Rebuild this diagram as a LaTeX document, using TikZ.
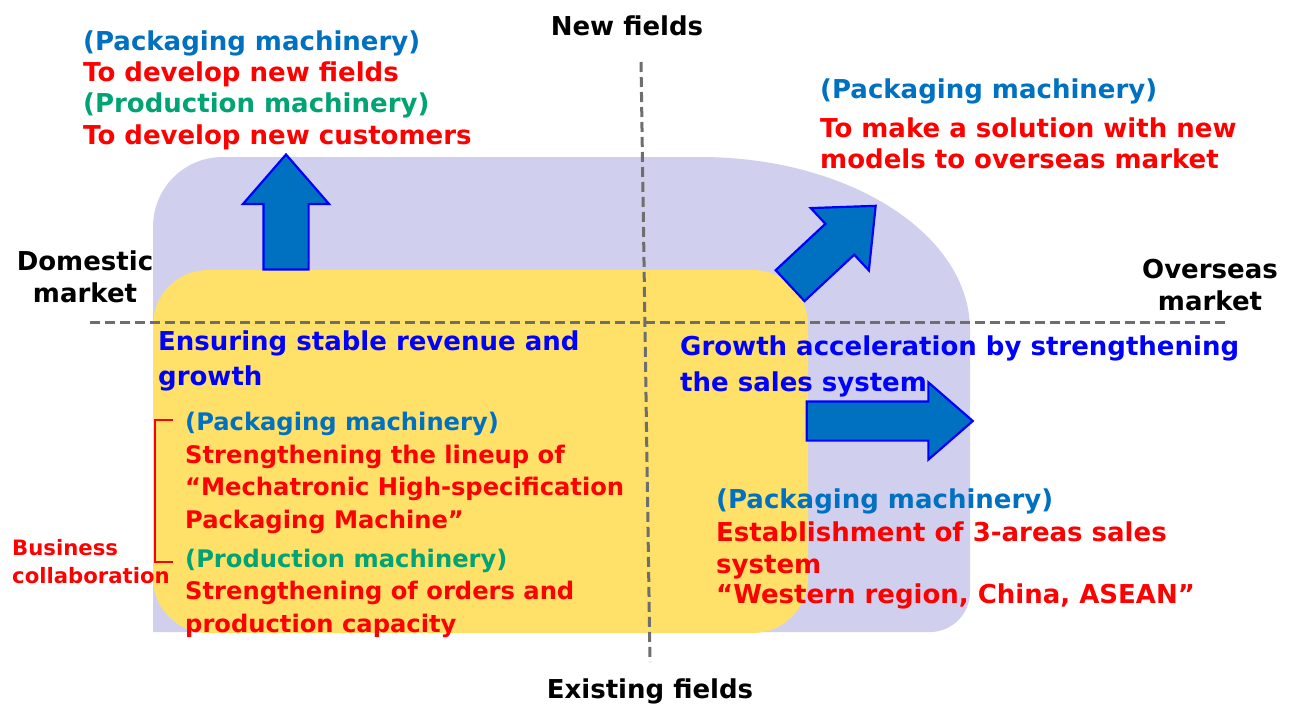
\documentclass[tikz,border=0pt]{standalone}
\usepackage{fontspec}
\setmainfont{DejaVu Sans}
\usetikzlibrary{shapes.arrows}

\definecolor{pkgblue}{RGB}{0,112,192}
\definecolor{prodgreen}{RGB}{0,163,115}
\definecolor{lavender}{RGB}{208,208,238}
\definecolor{sunny}{RGB}{255,224,104}
\definecolor{axisgray}{RGB}{110,110,110}

\begin{document}
\begin{tikzpicture}[x=1pt,
                    y=-1pt,
                    line join=miter,
                    ]
    % multi-line nodes sit on the baseline of their last line
    \tikzstyle{txt}=[inner sep=0pt, align=left, anchor=base west, font=\bfseries\fontsize{26}{32}\selectfont]
    \tikzstyle{txtsmall}=[txt, font=\bfseries\fontsize{24.2}{32.5}\selectfont]
    \tikzstyle{axislabel}=[txt, anchor=base, align=center, text=black]
    \tikzstyle{note}=[txt, text=red, font=\bfseries\fontsize{21.2}{28}\selectfont]
    \tikzstyle{bigarrow}=[single arrow, draw=blue, fill=pkgblue, line width=2.2pt,
                          inner xsep=0pt, single arrow tip angle=82]
    \tikzstyle{axis}=[axisgray, line width=3pt, dash pattern=on 10pt off 5pt]

    \useasboundingbox (0,0) rectangle (1293,707);

    % market areas
    \fill[lavender] (153,632) -- (153,227) .. controls (153,188) and (184,157) .. (223,157)
        -- (700,157) .. controls (849,157) and (970,234) .. (970,330)
        -- (970,592) .. controls (970,614) and (952,632) .. (930,632) -- cycle;
    \fill[sunny, rounded corners=55pt] (153,270) rectangle (808,633);

    % quadrant axes
    \coordinate (west) at (90,322);
    \coordinate (east) at (1228,322);
    \coordinate (north) at (641,62);
    \coordinate (south) at (650,662);
    \draw[axis] (west) -- (east);
    \draw[axis] (north) -- (south);

    \node[axislabel] (newfields) at (627,35) {New fields};
    \node[axislabel] (existing) at (650,698) {Existing fields};
    \node[axislabel] (domestic) at (85,302) {Domestic\\market};
    \node[axislabel] (overseas) at (1210,310) {Overseas\\market};

    % growth directions
    \node[bigarrow, minimum height=115pt, minimum width=84pt, inner ysep=21.5pt,
          single arrow head extend=20.5pt, rotate=90] (uparrow) at (286,225) {};
    \node[bigarrow, minimum height=117pt, minimum width=83pt, inner ysep=20pt,
          single arrow head extend=21.5pt, rotate=43] (diagarrow) at (824,254) {};
    \node[bigarrow, minimum height=166pt, minimum width=76pt, inner ysep=18.5pt,
          single arrow head extend=19pt] (rightarrow) at (878.5,421) {};

    % new fields
    \node[txt, font=\bfseries\fontsize{26}{31.3}\selectfont] (newdev) at (83,144)
        {\color{pkgblue}(Packaging machinery)\\
         \color{red}To develop new fields\\
         \color{prodgreen}(Production machinery)\\
         \color{red}To develop new customers};
    \node[txt] (newmodels) at (820,168)
        {\color{pkgblue}(Packaging machinery)\\[7pt]
         \color{red}To make a solution with new\\[-1pt]
         \color{red}models to overseas market};

    % existing fields
    \node[txt, text=blue] (stable) at (158,385) {Ensuring stable revenue and\\[3pt]growth};
    \node[txtsmall] (lineup) at (185,528)
        {\color{pkgblue}(Packaging machinery)\\
         \color{red}Strengthening the lineup of\\
         \color{red}“Mechatronic High-specification\\
         \color{red}Packaging Machine”};
    \node[txtsmall] (orders) at (185,632)
        {\color{prodgreen}(Production machinery)\\[-0.5pt]
         \color{red}Strengthening of orders and\\
         \color{red}production capacity};
    \node[note] (collab) at (12,583) {Business\\collaboration};
    \draw[red, line width=1.5pt] (173,420) -- (155,420) -- (155,562) -- (173,562);

    \node[txt, text=blue] (growth) at (680,391) {Growth acceleration by strengthening\\[4pt]the sales system};
    \node[txt] (sales) at (716,603)
        {\color{pkgblue}(Packaging machinery)\\[1pt]
         \color{red}Establishment of 3-areas sales\\
         \color{red}system\\[-2pt]
         \color{red}“Western region, China, ASEAN”};
\end{tikzpicture}
\end{document}
